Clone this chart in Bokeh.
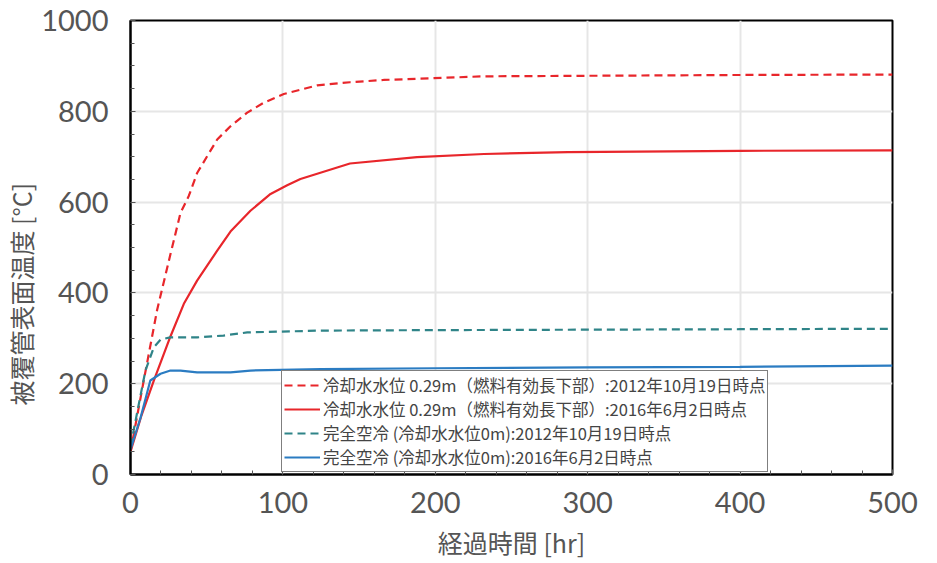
from bokeh.plotting import figure
from bokeh.models import Range1d, Legend, LegendItem, FixedTicker, Title
from bokeh.embed import file_html
from bokeh.resources import INLINE

FONT = "Noto Sans CJK JP"
NUMFONT = "Lato"

# Series data (hours, deg C)
t_red_2012 = [0, 8.7, 17.5, 26.2, 32.8, 38.3, 43.7, 50.3, 56.9, 65.6, 76.6, 87.5, 100.6, 122.5, 144, 166, 199, 232, 287, 400, 500]
v_red_2012 = [50, 207, 363, 485, 576, 614, 664, 701, 738, 767, 797, 819, 838, 857, 864, 869, 873, 877, 878, 880, 881]

t_red_2016 = [0, 7, 15.3, 26.2, 35, 43.7, 52.5, 56.9, 65.6, 78.7, 91.9, 102.8, 111.5, 144, 188, 232, 287, 400, 500]
v_red_2016 = [50, 128, 207, 304, 376, 427, 471, 493, 535, 581, 618, 637, 651, 685, 699, 706, 710, 713, 714]

t_air_2012 = [0, 9.8, 15.3, 19.7, 26, 43.7, 61, 76.6, 125, 200, 300, 400, 500]
v_air_2012 = [62, 229, 280, 297, 302, 302, 306, 313, 317, 318, 319, 320, 321]

t_air_2016 = [0, 6.6, 13, 19.7, 26.2, 32.8, 43.7, 65.6, 78.7, 125, 200, 300, 400, 500]
v_air_2016 = [55, 125, 207, 222, 229, 229, 225, 225, 229, 232, 234, 236, 237, 240]

labels = [
    "冷却水水位 0.29m（燃料有効長下部）:2012年10月19日時点",
    "冷却水水位 0.29m（燃料有効長下部）:2016年6月2日時点",
    "完全空冷 (冷却水水位0m):2012年10月19日時点",
    "完全空冷 (冷却水水位0m):2016年6月2日時点",
]

x_ticks = [0, 100, 200, 300, 400, 500]
y_ticks = [0, 200, 400, 600, 800, 1000]

p = figure(width=937, height=563, output_backend="svg", toolbar_location=None,
           x_range=Range1d(0, 500), y_range=Range1d(0, 1000),
           min_border_left=130, min_border_right=45, min_border_top=20, min_border_bottom=89)

RED = "#e8262b"
TEAL = "#2f8488"
BLUE = "#2b7cc2"

r1 = p.line(t_red_2012, v_red_2012, line_color=RED, line_width=2.2, line_dash="8 5")
r2 = p.line(t_red_2016, v_red_2016, line_color=RED, line_width=2.2)
r3 = p.line(t_air_2012, v_air_2012, line_color=TEAL, line_width=2.2, line_dash="8 5")
r4 = p.line(t_air_2016, v_air_2016, line_color=BLUE, line_width=2.2)

p.outline_line_color = "black"
p.outline_line_width = 2

for ax in (p.xaxis[0], p.yaxis[0]):
    ax.axis_line_color = "black"
    ax.axis_line_width = 2
    ax.major_tick_in = 5
    ax.major_tick_out = 0
    ax.minor_tick_in = 4
    ax.minor_tick_out = 0
    ax.major_tick_line_color = "#555555"
    ax.minor_tick_line_color = "#555555"
    ax.major_label_text_font = NUMFONT
    ax.major_label_text_font_size = "29px"
    ax.major_label_text_color = "#555555"
    ax.axis_label_text_font = FONT
    ax.axis_label_text_font_size = "25px"
    ax.axis_label_text_color = "#555555"
    ax.axis_label_text_font_style = "normal"

p.xaxis.ticker = FixedTicker(ticks=x_ticks, minor_ticks=list(range(0, 501, 20)))
p.yaxis.ticker = FixedTicker(ticks=y_ticks, minor_ticks=list(range(0, 1001, 50)))
p.xaxis.major_label_standoff = 17
p.yaxis.major_label_standoff = 22
p.xaxis.axis_label = "経過時間 [hr]"
p.xaxis.axis_label_standoff = 8

ytitle = Title(text="被覆管表面温度 [°C]", align="left", offset=69, standoff=0,
               text_font=FONT, text_font_size="25px", text_color="#555555",
               text_font_style="normal")
p.add_layout(ytitle, "left")

p.xgrid.grid_line_color = "#e6e6e6"
p.ygrid.grid_line_color = "#e6e6e6"
p.xgrid.grid_line_width = 2
p.ygrid.grid_line_width = 2

legend = Legend(items=[LegendItem(label=l, renderers=[r]) for l, r in zip(labels, [r1, r2, r3, r4])],
                location=(151, 2))
legend.label_text_font = FONT
legend.label_text_font_size = "16.5px"
legend.label_text_color = "#444444"
legend.border_line_color = "black"
legend.border_line_width = 1.5
legend.background_fill_alpha = 1
legend.glyph_width = 36
legend.glyph_height = 20
legend.label_height = 20
legend.label_standoff = 3
legend.spacing = 0
legend.padding = 2
legend.margin = 0
p.add_layout(legend, "center")

open("out.html", "w").write(file_html(p, INLINE))
